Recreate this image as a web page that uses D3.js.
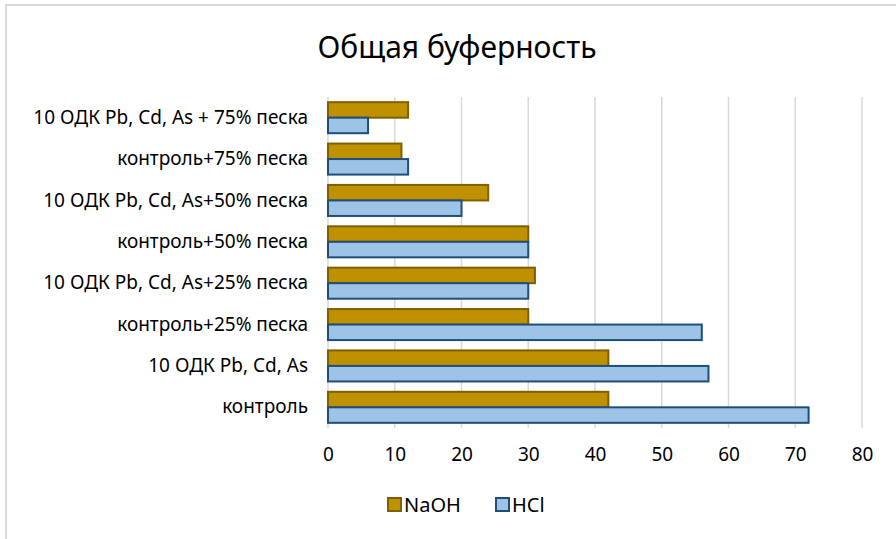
<!DOCTYPE html>
<html>
<head>
<meta charset="utf-8">
<script src="https://cdn.jsdelivr.net/npm/d3@7"></script>
<style>
body { margin: 0; background: #fff; }
text { font-family: "Noto Sans", sans-serif; fill: #000; }
</style>
</head>
<body>
<svg id="chart" width="896" height="539"></svg>
<script>
// data
var categories = ["10 ОДК Pb, Cd, As + 75% песка", "контроль+75% песка", "10 ОДК Pb, Cd, As+50% песка",
	"контроль+50% песка", "10 ОДК Pb, Cd, As+25% песка", "контроль+25% песка", "10 ОДК Pb, Cd, As", "контроль"]
var naoh = [12, 11, 24, 30, 31, 30, 42, 42]
var hcl = [6, 12, 20, 30, 30, 56, 57, 72]
var ticks = [0, 10, 20, 30, 40, 50, 60, 70, 80]
var seriesNames = ["NaOH", "HCl"]
var fills = ["#bf9000", "#9dc3e6"]
var strokes = ["#7f6000", "#1f4e79"]

var svg = d3.select('#chart')

// chart border (only top/left visible)
svg.append('rect')
	.attr('x', 6).attr('y', 5)
	.attr('width', 1000).attr('height', 1000)
	.attr('fill', 'none')
	.attr('stroke', '#d9d9d9')
	.attr('stroke-width', 2)

var plotLeft = 328, plotRight = 862, plotTop = 97, plotBottom = 428

var x = d3.scaleLinear().domain([0, 80]).range([plotLeft, plotRight])
var y = d3.scaleBand().domain(categories).range([plotTop, plotBottom]).paddingInner(0.25).paddingOuter(0.125)
var sub = d3.scaleBand().domain(seriesNames).range([0, y.bandwidth()])

// gridlines
svg.append('g').selectAll('line').data(ticks).join('line')
	.attr('x1', d => x(d)).attr('x2', d => x(d))
	.attr('y1', plotTop).attr('y2', plotBottom)
	.attr('stroke', '#d9d9d9')
	.attr('stroke-width', 1.5)

var series = [naoh, hcl]
series.forEach(function(vals, s) {
	svg.append('g').selectAll('rect').data(categories).join('rect')
		.attr('x', x(0))
		.attr('y', (d) => y(d) + sub(seriesNames[s]))
		.attr('width', (d, i) => x(vals[i]) - x(0))
		.attr('height', sub.bandwidth())
		.attr('fill', fills[s])
		.attr('stroke', strokes[s])
		.attr('stroke-width', 2)
})

// x axis labels
var xAxis = d3.axisBottom(x).tickValues(ticks).tickSize(0).tickPadding(20)
var gx = svg.append('g').attr('transform', 'translate(0,' + plotBottom + ')').call(xAxis)
gx.select('.domain').remove()
gx.selectAll('text').style('font-size', '19px').style('font-family', '"Noto Sans", sans-serif').attr('fill', '#000')

// y axis labels
var yAxis = d3.axisLeft(y).tickSize(0).tickPadding(20)
var gy = svg.append('g').attr('transform', 'translate(' + plotLeft + ',0)').call(yAxis)
gy.select('.domain').remove()
gy.selectAll('text').style('font-size', '19px').style('font-family', '"Noto Sans", sans-serif').attr('fill', '#000')

// title
svg.append('text')
	.attr('x', 457).attr('y', 58)
	.attr('text-anchor', 'middle')
	.style('font-size', '30px')
	.text('Общая буферность')

// legend
var leg = svg.append('g').attr('transform', 'translate(388,498)')
var lx = [0, 108]
seriesNames.forEach(function(n, i) {
	leg.append('rect')
		.attr('x', lx[i]).attr('y', 0)
		.attr('width', 13).attr('height', 13)
		.attr('fill', fills[i]).attr('stroke', strokes[i]).attr('stroke-width', 2)
	leg.append('text')
		.attr('x', lx[i] + 16).attr('y', 14)
		.style('font-size', '20px')
		.text(n)
})
</script>
</body>
</html>
